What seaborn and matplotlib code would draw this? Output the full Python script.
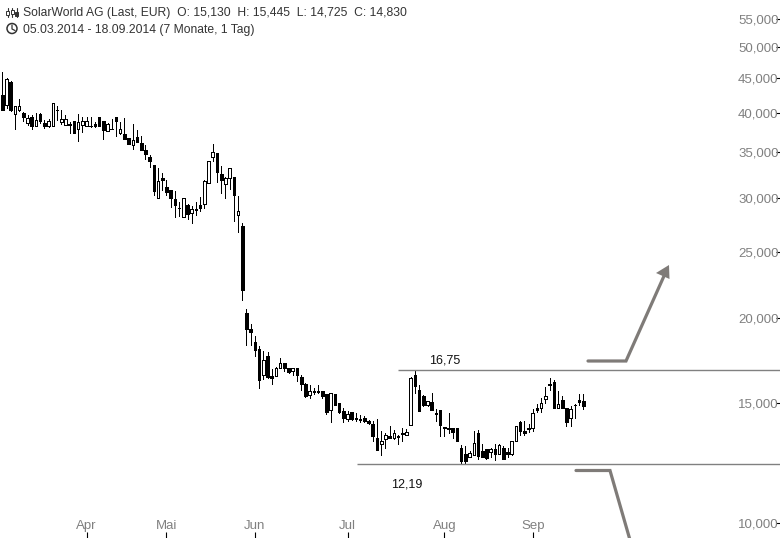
import numpy as np
import pandas as pd
import seaborn as sns
import matplotlib.pyplot as plt
from matplotlib.patches import Circle, Polygon
from matplotlib.ticker import NullLocator

highs = [45.9, 45.0, 44.55, 40.95, 41.95, 40.13, 39.7, 39.7, 39.95, 40.0, 39.0, 39.14, 41.35, 40.95, 40.4, 39.7,
         38.75, 38.88, 39.85, 39.5, 39.5, 39.4, 38.83, 39.45, 38.88, 38.65, 39.14, 39.45, 38.78, 39.3, 36.7, 38.55,
         37.76, 37.0, 35.9, 34.7, 33.5, 33.2, 32.6, 31.9, 30.87, 30.77, 29.65, 29.97, 29.45, 29.2, 29.58, 30.1,
         31.9, 34.05, 36.0, 34.95, 33.4, 32.2, 33.2, 32.2, 30.2, 27.57, 20.62, 19.6, 18.82, 18.2, 17.9, 17.83,
         16.83, 16.95, 17.47, 17.15, 16.87, 16.87, 16.87, 16.48, 16.03, 15.93, 15.77, 15.96, 15.61, 15.47, 15.5, 15.47,
         15.0, 14.73, 14.62, 14.54, 14.5, 14.4, 14.35, 14.17, 14.13, 14.21, 13.65, 13.57, 13.9, 13.68, 13.47, 13.81,
         13.73, 16.4, 16.71, 15.92, 15.43, 15.12, 15.5, 14.71, 14.63, 13.83, 14.52, 13.81, 13.8, 13.02, 12.96, 12.76,
         13.63, 13.68, 13.08, 12.84, 12.88, 13.08, 13.06, 12.98, 12.87, 13.2, 13.88, 14.1, 14.12, 13.97, 14.68, 14.95,
         15.25, 15.82, 16.35, 16.2, 15.61, 15.35, 14.73, 14.87, 14.95, 15.47, 15.445]
lows = [40.4, 40.67, 40.27, 37.9, 40.27, 38.96, 38.44, 37.93, 38.3, 38.7, 38.05, 38.2, 38.3, 39.05, 38.55, 38.44,
        37.4, 37.4, 36.4, 37.55, 38.3, 38.2, 38.2, 38.3, 36.65, 37.67, 37.89, 37.05, 37.25, 36.65, 36.05, 35.45,
        36.3, 35.33, 34.25, 33.35, 30.3, 30.05, 30.87, 30.3, 29.1, 28.15, 28.25, 28.1, 27.97, 27.6, 28.32, 28.7,
        29.03, 31.6, 34.0, 31.7, 30.5, 30.0, 30.9, 27.8, 26.75, 21.27, 18.26, 18.26, 17.6, 15.8, 16.28, 16.3,
        16.0, 16.45, 16.9, 16.71, 16.62, 16.5, 16.14, 15.7, 15.33, 15.28, 15.47, 15.54, 15.28, 14.47, 14.05, 14.92,
        14.52, 14.09, 14.13, 14.18, 14.11, 14.05, 14.07, 13.98, 13.2, 12.81, 12.6, 12.9, 13.34, 13.3, 13.08, 13.2,
        13.45, 13.95, 15.5, 14.62, 14.87, 14.87, 14.67, 14.13, 13.41, 13.41, 13.54, 13.34, 13.2, 12.2, 12.26, 12.52,
        12.6, 12.4, 12.52, 12.41, 12.52, 12.38, 12.63, 12.42, 12.52, 12.59, 13.18, 13.48, 13.48, 13.58, 13.66, 14.57,
        14.57, 14.98, 15.68, 14.75, 14.73, 14.73, 13.88, 13.9, 14.25, 14.92, 14.725]
opens = [42.5, 41.03, 44.4, 39.9, 40.4, 40.0, 38.7, 39.45, 38.3, 39.85, 38.62, 38.24, 38.3, 40.4, 38.78, 38.44,
         38.55, 38.88, 37.93, 38.44, 38.3, 38.33, 38.55, 39.45, 38.88, 37.67, 37.94, 39.45, 37.4, 37.27, 36.7, 35.93,
         36.87, 36.1, 35.3, 34.45, 33.5, 30.05, 32.1, 31.1, 30.87, 29.87, 29.02, 28.1, 29.35, 28.55, 28.9, 29.3,
         29.45, 31.6, 34.5, 34.95, 32.55, 31.43, 32.1, 32.2, 28.35, 27.3, 20.35, 19.27, 18.44, 18.0, 16.5, 17.6,
         16.42, 16.45, 16.9, 17.15, 16.87, 16.73, 16.87, 16.37, 15.98, 15.43, 15.63, 15.63, 15.61, 15.47, 14.67, 15.47,
         15.0, 14.62, 14.23, 14.54, 14.27, 14.22, 14.25, 14.13, 13.96, 13.33, 13.05, 13.27, 13.42, 13.32, 13.42, 13.55,
         13.45, 13.95, 16.47, 15.66, 15.35, 14.92, 15.04, 14.52, 14.63, 13.83, 13.81, 13.78, 13.8, 12.9, 12.62, 12.52,
         12.6, 13.55, 12.76, 12.84, 12.73, 12.84, 12.63, 12.9, 12.71, 12.63, 13.18, 14.05, 13.65, 13.77, 13.8, 14.73,
         14.76, 15.2, 15.98, 16.1, 14.73, 15.14, 14.73, 14.25, 14.91, 15.14, 15.13]
closes = [40.4, 44.85, 40.4, 40.95, 40.95, 39.5, 39.3, 38.3, 39.0, 38.96, 38.3, 38.88, 41.35, 40.38, 39.14, 39.14,
          38.4, 37.4, 38.75, 38.88, 38.88, 38.28, 38.27, 38.3, 37.8, 38.5, 37.89, 38.9, 37.85, 36.65, 36.05, 36.46,
          36.3, 35.33, 34.85, 34.0, 30.72, 31.75, 31.93, 30.6, 30.0, 29.3, 28.98, 29.97, 28.4, 28.95, 28.86, 29.03,
          31.8, 34.05, 35.0, 32.8, 31.93, 32.1, 33.2, 30.3, 28.67, 22.0, 19.28, 19.08, 17.95, 16.2, 17.35, 16.4,
          16.35, 16.88, 17.2, 16.88, 16.66, 16.87, 16.48, 16.0, 15.37, 15.61, 15.56, 15.56, 15.38, 14.57, 15.5, 14.92,
          14.57, 14.28, 14.45, 14.22, 14.2, 14.17, 14.13, 14.03, 13.41, 12.81, 13.18, 13.45, 13.34, 13.54, 13.38, 13.53,
          13.59, 16.35, 15.9, 14.62, 14.92, 15.12, 14.67, 14.47, 13.95, 13.78, 13.75, 13.6, 13.2, 12.32, 12.33, 12.67,
          13.1, 12.55, 12.52, 12.47, 12.84, 12.63, 13.02, 12.42, 12.61, 13.2, 13.88, 13.63, 13.57, 13.74, 14.5, 14.67,
          14.99, 15.37, 15.92, 14.75, 14.94, 14.73, 14.06, 14.68, 14.89, 15.07, 14.83]

price_ticks = [10, 15, 20, 25, 30, 35, 40, 45, 50, 55]
month_labels = ['Apr', 'Mai', 'Jun', 'Jul', 'Aug', 'Sep']
month_starts = [20, 39, 60, 82, 105, 126]
resistance = 16.75
support = 12.19

df = pd.DataFrame({'high': highs, 'low': lows, 'open': opens, 'close': closes})
df['idx'] = df.index
wicks = df.melt(id_vars='idx', value_vars=['high', 'low'], value_name='price')

sns.set_theme(style='white')
plt.rcParams['font.family'] = ['Liberation Sans', 'DejaVu Sans']

fig = plt.figure(figsize=(7.8, 5.38), dpi=100)
ax = fig.add_axes([0, 0, 1, 1])
ax.set_yscale('log')

# Dochte
sns.lineplot(data=wicks, x='idx', y='price', units='idx', estimator=None, color='black',
             linewidth=0.72, antialiased=False, legend=False, ax=ax)

# Kerzenkoerper
up = df['close'] >= df['open']
body_low = df[['open', 'close']].min(axis=1)
body_high = df[['open', 'close']].max(axis=1)
ax.bar(df['idx'], body_high - body_low, bottom=body_low, width=0.62,
       color=['white' if u else 'black' for u in up], edgecolor='black', linewidth=0.72,
       antialiased=False, zorder=3)

ax.set_xlim(-2.3 / 4.21, 777.7 / 4.21)
ax.set_ylim(9.506, 58.6)
ax.set_xlabel('')
ax.set_ylabel('')
sns.despine(ax=ax, left=True, bottom=True, right=True, top=True)

ax.yaxis.set_minor_locator(NullLocator())
ax.set_yticks(price_ticks)
ax.set_yticklabels([f'{p},000' for p in price_ticks])
ax.yaxis.tick_right()
ax.tick_params(axis='y', which='major', right=True, direction='in', length=3, width=0.8, color='black',
               labelsize=9.5, labelcolor='#808080', pad=-1)
for lab in ax.get_yticklabels():
    lab.set_ha('right')

ax.set_xticks(month_starts)
ax.set_xticklabels(month_labels)
ax.tick_params(axis='x', bottom=True, direction='in', length=4, width=0.8, color='black',
               labelsize=9.5, labelcolor='#808080', pad=-13)
ax.grid(False)

# Widerstand / Unterstuetzung
ax.hlines(resistance, (398 - 2.3) / 4.21, 186, color='#808080', linewidth=1, zorder=2)
ax.hlines(support, (357 - 2.3) / 4.21, 186, color='#808080', linewidth=1, zorder=2)

# Overlay in Pixeln fuer Pfeile, Kopfzeile und Icons
ov = fig.add_axes([0, 0, 1, 1])
ov.set_xlim(0, 780)
ov.set_ylim(538, 0)
ov.axis('off')
ov.patch.set_alpha(0)

arrow_col = '#7f7b78'
ov.plot([588, 626, 664], [361, 361, 276], color=arrow_col, lw=2.3, solid_capstyle='round', solid_joinstyle='miter')
ov.add_patch(Polygon([[669, 265], [656, 273], [669.5, 279]], closed=True, color=arrow_col, lw=0))
ov.plot([576, 610, 630], [470.5, 470.5, 540], color=arrow_col, lw=2.3, solid_capstyle='round', solid_joinstyle='miter')

ov.text(429.5, 360.5, '16,75', fontsize=9, color='#111111', va='center', ha='left')
ov.text(391.5, 484.5, '12,19', fontsize=9, color='#111111', va='center', ha='left')

ov.text(23, 13, 'SolarWorld AG (Last, EUR)  O: 15,130  H: 15,445  L: 14,725  C: 14,830', fontsize=8.7,
        color='#333333', va='center', ha='left')
ov.text(23, 29.5, '05.03.2014 - 18.09.2014 (7 Monate, 1 Tag)', fontsize=8.7,
        color='#333333', va='center', ha='left')

# Icons
for xi, top, bot, y0, y1, filled in [(7.5, 8, 17, 11, 15, False), (12, 8, 17, 10, 14, False), (16.5, 8, 17, 12, 16, True)]:
    ov.plot([xi, xi], [top, bot], color='#333333', lw=0.8)
    ov.add_patch(plt.Rectangle((xi - 1.5, y0), 3, y1 - y0, fc='#333333' if filled else 'white', ec='#333333', lw=0.7, zorder=3))
ov.add_patch(Circle((12, 28.5), 5, fc='none', ec='#333333', lw=1.1))
ov.plot([12, 12, 15], [25, 29, 30.5], color='#333333', lw=0.9)

fig.savefig('out.png', dpi=100)
